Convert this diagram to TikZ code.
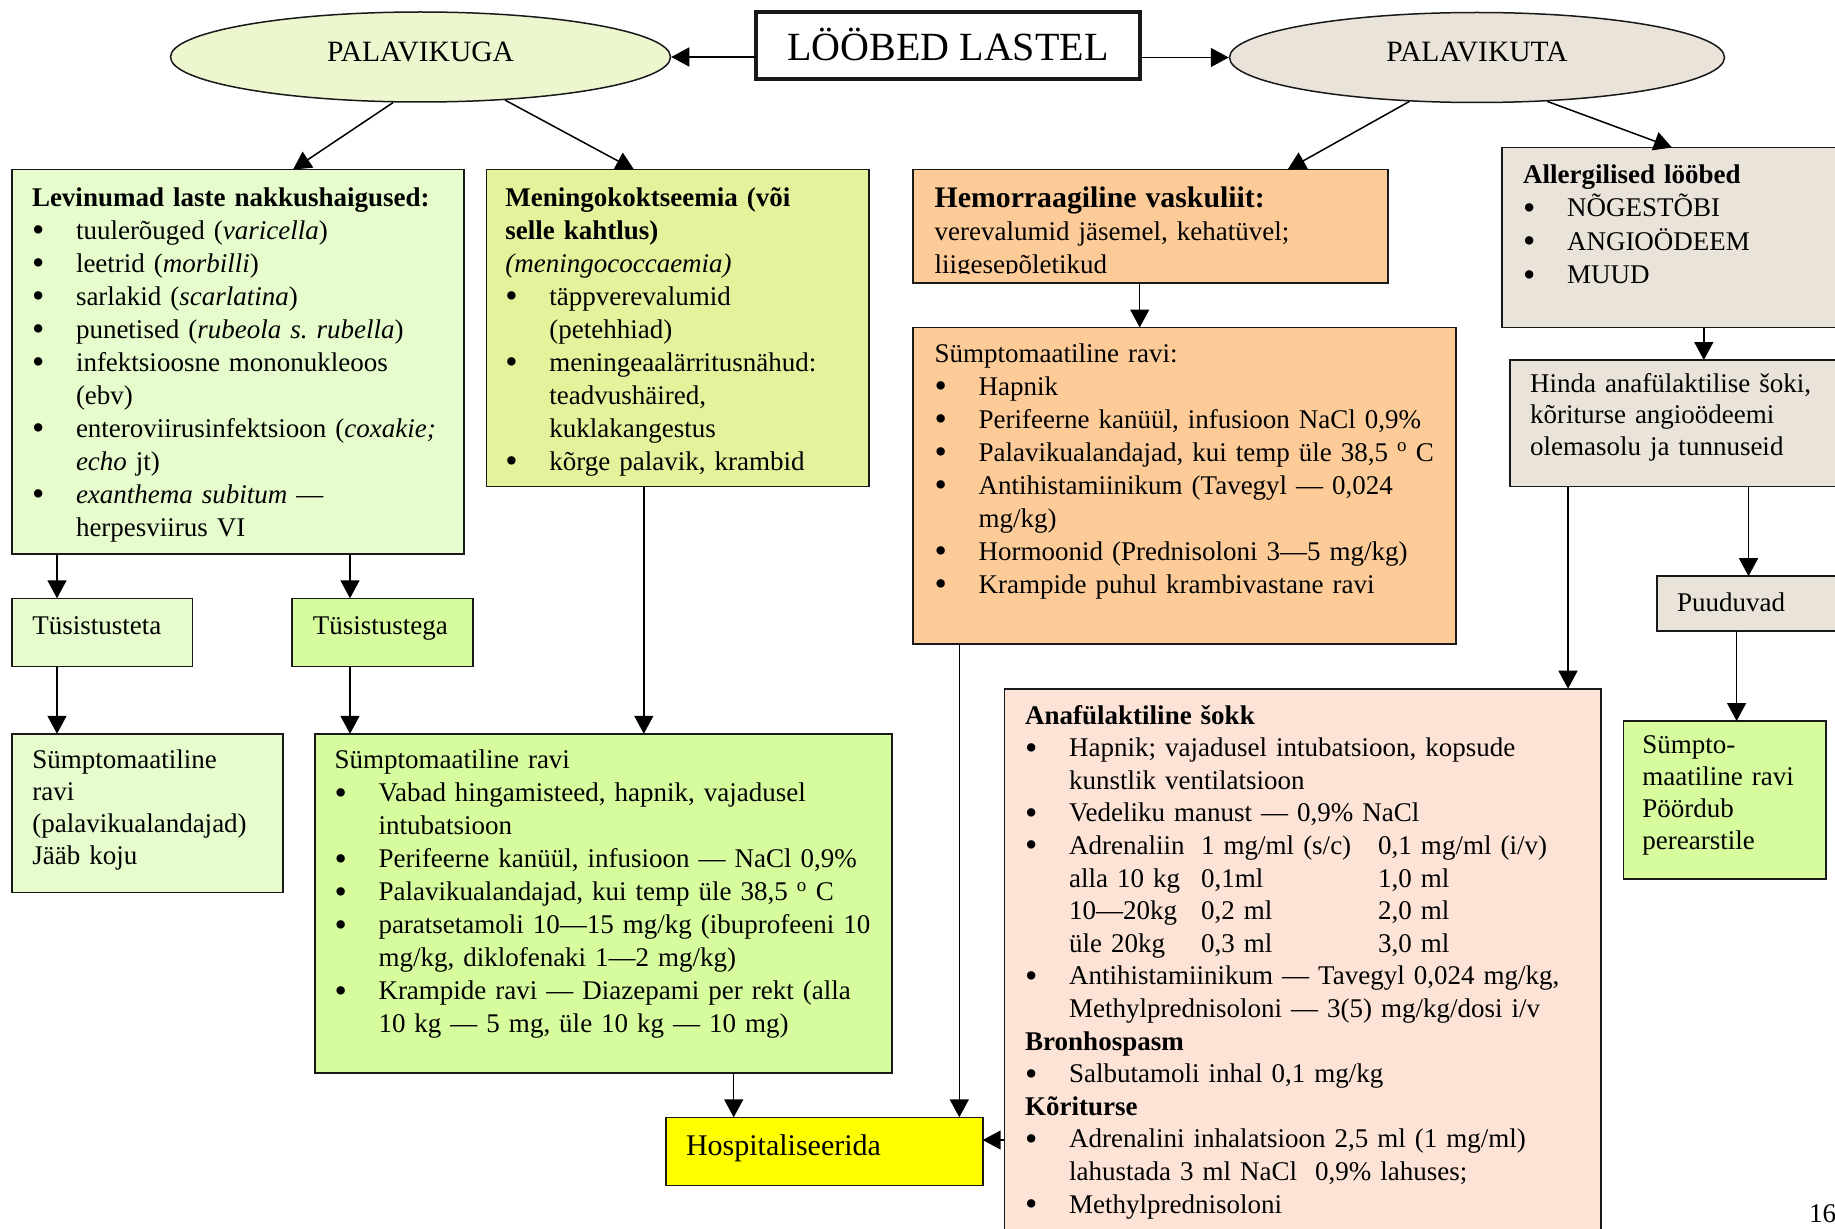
\documentclass[tikz,border=0pt]{standalone}
\usepackage{fontspec}
\setmainfont{Liberation Serif}
\usetikzlibrary{arrows.meta,shapes.geometric}

\definecolor{cLev}{HTML}{E6FCCC}
\definecolor{cMen}{HTML}{E4F29C}
\definecolor{cGrn}{HTML}{D6FC9E}
\definecolor{cPG}{HTML}{ECF7D0}
\definecolor{cBei}{HTML}{EAE3D9}
\definecolor{cOr}{HTML}{FDCB98}
\definecolor{cAn}{HTML}{FCE3D6}
\definecolor{cYel}{HTML}{FFFF00}

\frenchspacing
\newcommand\bodyfont{\fontsize{27pt}{33pt}\selectfont}
\newcommand\ellfont{\fontsize{29.5pt}{35pt}\selectfont}
\newcommand\titlefont{\fontsize{40pt}{48pt}\selectfont}
\newcommand\hospfont{\fontsize{30pt}{36pt}\selectfont}
\newcommand\bul{\makebox[44pt][l]{\raisebox{-2.5pt}{\scalebox{1.3}{\textbullet}}}}
\newcommand\ind{\hspace*{44pt}}
\newcommand\cola[1]{\makebox[132pt][l]{#1}}
\newcommand\colb[1]{\makebox[177pt][l]{#1}}
\newcommand\degr{\textsuperscript{o}}

\tikzset{
  box/.style={draw=black!90, line width=1.6pt, anchor=north west, inner sep=0pt, outer sep=0pt},
  txt/.style={inner sep=0pt, outer sep=0pt, anchor=base west, text width=700pt, align=left, font=\bodyfont},
  arr/.style={line width=1.5pt, -{Triangle[width=19pt,length=18pt]}},
  ell/.style={ellipse, draw=black!90, line width=1.5pt, inner sep=0pt, font=\ellfont, text height=20pt, text depth=11pt},
}

\begin{document}
\begin{tikzpicture}[x=1pt,y=-1pt]
\useasboundingbox (0,0) rectangle (1835,1228);
\clip (0,0) rectangle (1835,1228);

% top level
\node[box, line width=4pt, minimum width=384pt, minimum height=67pt, anchor=center,
      font=\titlefont, text height=31pt, text depth=1.6pt, fill=white] (title) at (948,45.5) {LÖÖBED LASTEL};
\node[ell, fill=cPG, minimum width=500pt, minimum height=90pt] (pg) at (420.5,57) {PALAVIKUGA};
\node[ell, fill=cBei, minimum width=495pt, minimum height=90pt] (pk) at (1477,57.5) {PALAVIKUTA};

% boxes
\node[box, fill=cLev, minimum width=452pt, minimum height=384.4pt] (lev) at (11.7,169.6) {};
\node[box, fill=cMen, minimum width=382.5pt, minimum height=316.8pt] (men) at (486.5,169.6) {};
\node[box, fill=cOr, minimum width=474.8pt, minimum height=113.3pt] (hem) at (913,169.6) {};
\node[box, fill=cBei, minimum width=348pt, minimum height=180pt] (all) at (1502,147.5) {};
\node[box, fill=cOr, minimum width=542.8pt, minimum height=316.5pt] (orsym) at (913,327.5) {};
\node[box, fill=cBei, minimum width=340pt, minimum height=126.4pt] (hinda) at (1510,360) {};
\node[box, fill=cBei, minimum width=193pt, minimum height=55pt] (puud) at (1657,576.2) {};
\node[box, fill=cGrn, minimum width=202.7pt, minimum height=157.7pt] (sumpto) at (1623.3,721) {};
\node[box, fill=cAn, minimum width=596.3pt, minimum height=561.3pt] (anaf) at (1004.4,688.7) {};
\node[box, fill=cLev, minimum width=180.8pt, minimum height=68.2pt] (tus1) at (11.7,598.3) {};
\node[box, fill=cGrn, minimum width=181pt, minimum height=68.2pt] (tus2) at (292,598.3) {};
\node[box, fill=cLev, minimum width=271.2pt, minimum height=158.5pt] (lsym) at (11.7,733.8) {};
\node[box, fill=cGrn, minimum width=577pt, minimum height=339.2pt] (gsym) at (315,733.8) {};
\node[box, fill=cYel, minimum width=316.7pt, minimum height=68pt] (hosp) at (666,1117.3) {};

% texts
\node[txt] (levT) at (32,206) {\textbf{Levinumad laste nakkushaigused:}\\
\bul tuulerõuged (\textit{varicella})\\
\bul leetrid (\textit{morbilli})\\
\bul sarlakid (\textit{scarlatina})\\
\bul punetised (\textit{rubeola s. rubella})\\
\bul infektsioosne mononukleoos\\
\ind (ebv)\\
\bul enteroviirusinfektsioon (\textit{coxakie;}\\
\ind \textit{echo} jt)\\
\bul \textit{exanthema subitum} —\\
\ind herpesviirus VI};

\node[txt] (menT) at (505.3,206) {\textbf{Meningokoktseemia (või}\\
\textbf{selle kahtlus)}\\
\textit{(meningococcaemia)}\\
\bul täppverevalumid\\
\ind (petehhiad)\\
\bul meningeaalärritusnähud:\\
\ind teadvushäired,\\
\ind kuklakangestus\\
\bul kõrge palavik, krambid};

\begin{scope}
\clip (hem.north west) rectangle ([yshift=9pt]hem.south east);
\node[txt] (hemT) at (934.6,207) {\textbf{\fontsize{29.8pt}{33pt}\selectfont Hemorraagiline vaskuliit:}\\
verevalumid jäsemel, kehatüvel;\\
liigesepõletikud};
\end{scope}

\node[txt] (orsymT) at (934.6,362) {Sümptomaatiline ravi:\\
\bul Hapnik\\
\bul Perifeerne kanüül, infusioon NaCl 0,9\%\\
\bul Palavikualandajad, kui temp üle 38,5 \degr{} C\\
\bul Antihistamiinikum (Tavegyl — 0,024\\
\ind mg/kg)\\
\bul Hormoonid (Prednisoloni 3—5 mg/kg)\\
\bul Krampide puhul krambivastane ravi};

\node[txt, font={\fontsize{27pt}{33.5pt}\selectfont}] (allT) at (1523,183) {\textbf{Allergilised lööbed}\\
\bul NÕGESTÕBI\\
\bul ANGIOÖDEEM\\
\bul MUUD};

\node[txt, font={\fontsize{27pt}{31.6pt}\selectfont}] (hindaT) at (1530,392) {Hinda anafülaktilise šoki,\\
kõriturse angioödeemi\\
olemasolu ja tunnuseid};

\node[txt] (puudT) at (1677,611) {Puuduvad};

\node[txt, font={\fontsize{27pt}{32pt}\selectfont}] (sumptoT) at (1642.4,753) {Sümpto-\\
maatiline ravi\\
Pöördub\\
perearstile};

\node[txt, font={\fontsize{27pt}{32.6pt}\selectfont}] (anafT) at (1025.2,724) {\textbf{Anafülaktiline šokk}\\
\bul Hapnik; vajadusel intubatsioon, kopsude\\
\ind kunstlik ventilatsioon\\
\bul Vedeliku manust — 0,9\% NaCl\\
\bul \cola{Adrenaliin}\colb{1 mg/ml (s/c)}0,1 mg/ml (i/v)\\
\ind\cola{alla 10 kg}\colb{0,1ml}1,0 ml\\
\ind\cola{10—20kg}\colb{0,2 ml}2,0 ml\\
\ind\cola{üle 20kg}\colb{0,3 ml}3,0 ml\\
\bul Antihistamiinikum — Tavegyl 0,024 mg/kg,\\
\ind Methylprednisoloni — 3(5) mg/kg/dosi i/v\\
\textbf{Bronhospasm}\\
\bul Salbutamoli inhal 0,1 mg/kg\\
\textbf{Kõriturse}\\
\bul Adrenalini inhalatsioon 2,5 ml (1 mg/ml)\\
\ind lahustada 3 ml NaCl\ \ 0,9\% lahuses;\\
\bul Methylprednisoloni};

\node[txt] (tus1T) at (32.3,634.6) {Tüsistusteta};
\node[txt] (tus2T) at (312.8,634.3) {Tüsistustega};

\node[txt, font={\fontsize{27pt}{32pt}\selectfont}] (lsymT) at (32.3,768.8) {Sümptomaatiline\\
ravi\\
(palavikualandajad)\\
Jääb koju};

\node[txt] (gsymT) at (334.5,768.5) {Sümptomaatiline ravi\\
\bul Vabad hingamisteed, hapnik, vajadusel\\
\ind intubatsioon\\
\bul Perifeerne kanüül, infusioon — NaCl 0,9\%\\
\bul Palavikualandajad, kui temp üle 38,5 \degr{} C\\
\bul paratsetamoli 10—15 mg/kg (ibuprofeeni 10\\
\ind mg/kg, diklofenaki 1—2 mg/kg)\\
\bul Krampide ravi — Diazepami per rekt (alla\\
\ind 10 kg — 5 mg, üle 10 kg — 10 mg)};

\node[txt, font=\hospfont] (hospT) at (686,1155.7) {Hospitaliseerida};

\node[txt] (pnum) at (1809,1222) {16};

% connectors
\draw[arr] (title.west |- pg.east) -- (pg.east);
\draw[arr] (title.east |- pk.west) -- (pk.west);
\draw[arr] (pg.239.5) -- ([xshift=281.3pt]lev.north west);
\draw[arr] (pg.-27) -- ([xshift=147.5pt]men.north west);
\draw[arr] (pk.213.3) -- ([xshift=374.6pt]hem.north west);
\draw[arr] (pk.-32.9) -- ([xshift=170pt]all.north west);
\draw[arr] ([xshift=45.3pt]lev.south west) -- ([xshift=45.3pt]tus1.north west);
\draw[arr] ([xshift=338.3pt]lev.south west) -- ([xshift=58pt]tus2.north west);
\draw[arr] ([xshift=45.3pt]tus1.south west) -- ([xshift=45.3pt]lsym.north west);
\draw[arr] ([xshift=58pt]tus2.south west) -- ([xshift=35pt]gsym.north west);
\draw[arr] ([xshift=157.3pt]men.south west) -- ([xshift=328.8pt]gsym.north west);
\draw[arr] ([xshift=418.7pt]gsym.south west) -- ([xshift=67.7pt]hosp.north west);
\draw[arr] ([xshift=226.7pt]hem.south west) -- ([xshift=226.7pt]orsym.north west);
\draw[arr] ([xshift=46.3pt]orsym.south west) -- ([xshift=293.3pt]hosp.north west);
\draw[arr] ([xshift=201.8pt]all.south west) -- ([xshift=193.8pt]hinda.north west);
\draw[arr] ([xshift=58pt]hinda.south west) -- ([xshift=563.6pt]anaf.north west);
\draw[arr] ([xshift=238.5pt]hinda.south west) -- ([xshift=91.5pt]puud.north west);
\draw[arr] ([xshift=79.6pt]puud.south west) -- ([xshift=113.3pt]sumpto.north west);
\draw[arr] ([yshift=-451.3pt]anaf.north west) -- ([yshift=-22.7pt]hosp.north east);
\end{tikzpicture}
\end{document}
